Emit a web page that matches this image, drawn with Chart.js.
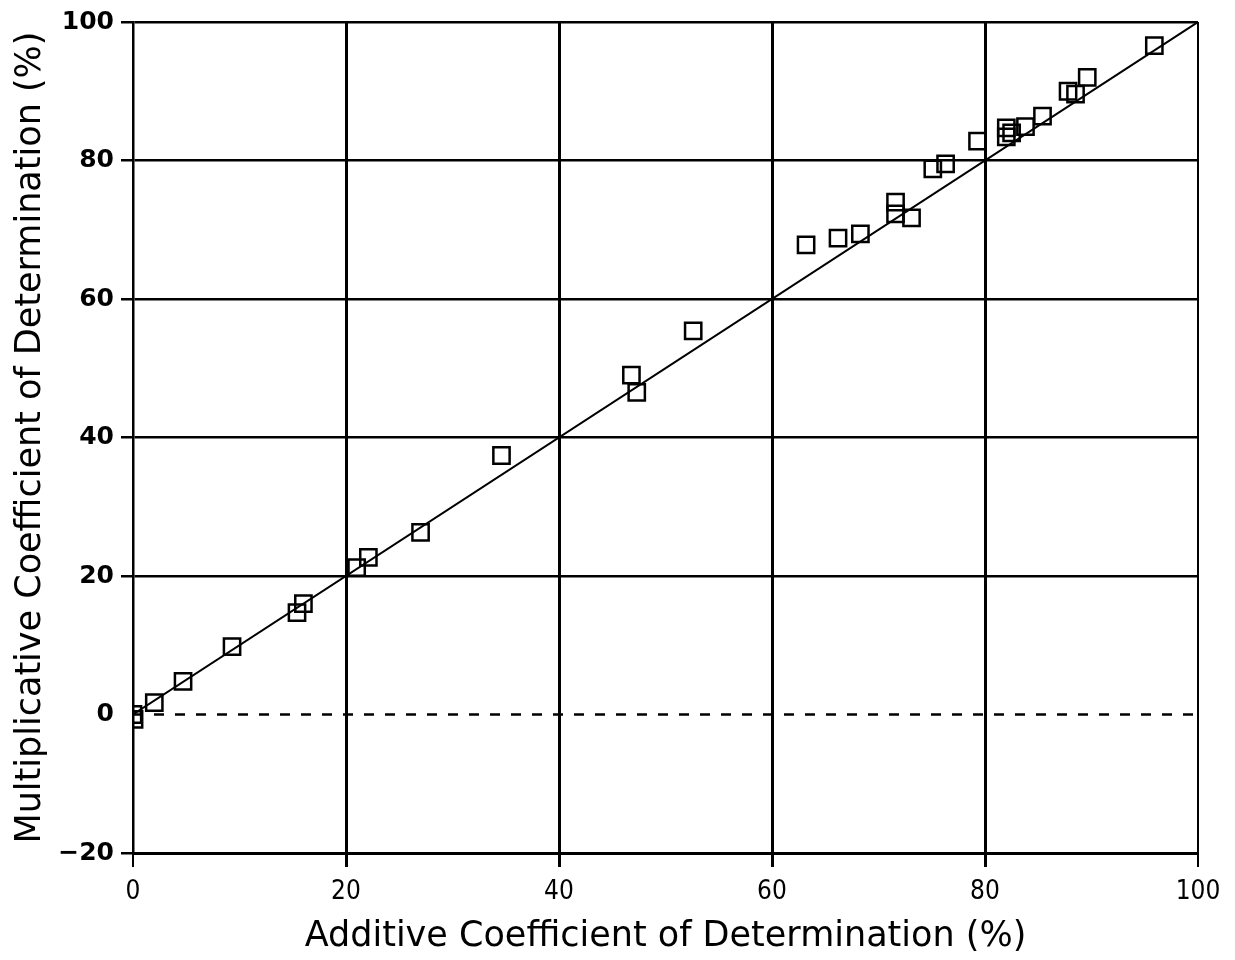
<!DOCTYPE html>
<html>
<head>
<meta charset="utf-8">
<script src="https://cdn.jsdelivr.net/npm/chart.js@4/dist/chart.umd.min.js"></script>
<style>
html,body{margin:0;padding:0;background:#fff;}
#wrap{width:1235px;height:960px;position:relative;}
</style>
</head>
<body>
<div id="wrap"><canvas id="c" width="1235" height="960"></canvas></div>
<script>
// Data
const additive = [0, 0.1, 2.0, 4.7, 9.3, 15.4, 16.0, 21.0, 22.1, 27.0, 34.6, 46.8, 47.3, 52.6, 63.2, 66.2, 68.3, 71.6, 71.6, 73.1, 75.1, 76.3, 79.3, 82.0, 82.0, 82.5, 83.8, 85.4, 87.8, 88.5, 89.6, 95.9];
const multiplicative = [0, -0.7, 1.7, 4.8, 9.8, 14.7, 16.0, 21.2, 22.7, 26.3, 37.4, 49.0, 46.5, 55.4, 67.8, 68.8, 69.4, 74.0, 72.3, 71.7, 78.8, 79.5, 82.8, 84.7, 83.4, 84.0, 84.9, 86.4, 90.0, 89.6, 92.0, 96.6];
const lineX = [0, 100];
const lineY = [0, 100];
const zeroX = [0, 100];
const zeroY = [0, 0];
const xTicks = [0, 20, 40, 60, 80, 100];
const yTicks = [-20, 0, 20, 40, 60, 80, 100];

const pts = additive.map((v, i) => ({x: v, y: multiplicative[i]}));
const fit = lineX.map((v, i) => ({x: v, y: lineY[i]}));
const zero = zeroX.map((v, i) => ({x: v, y: zeroY[i]}));

new Chart(document.getElementById('c'), {
  type: 'scatter',
  data: {
    datasets: [
      {data: fit, showLine: true, borderColor: '#000', borderWidth: 2, pointRadius: 0, order: 2},
      {data: zero, showLine: true, borderColor: '#000', borderWidth: 2.5, borderDash: [10, 11], pointRadius: 0, order: 3},
      {data: pts, pointStyle: 'rect', pointRadius: 11.5, pointBorderWidth: 2.5, pointBorderColor: '#000', pointBackgroundColor: 'rgba(255,255,255,0)', showLine: false, order: 1}
    ]
  },
  options: {
    responsive: false,
    animation: false,
    events: [],
    layout: {padding: {top: 20, right: 37, bottom: 0, left: 0}},
    plugins: {legend: {display: false}, tooltip: {enabled: false}},
    scales: {
      x: {
        type: 'linear', min: 0, max: 100,
        afterBuildTicks: s => { s.ticks = xTicks.map(v => ({value: v})); },
        afterFit: s => { s.height = 107; },
        grid: {
          color: '#000',
          lineWidth: ctx => (ctx.tick && (ctx.tick.value === 0 || ctx.tick.value === 100)) ? 2 : 3,
          tickLength: 14, drawOnChartArea: true
        },
        border: {display: true, color: '#000', width: 3},
        ticks: {color: '#000', padding: 10, font: {family: "'DejaVu Sans Condensed', 'DejaVu Sans'", size: 26}, maxRotation: 0},
        title: {display: true, text: 'Additive Coefficient of Determination (%)', color: '#000',
                font: {family: 'DejaVu Sans', size: 35}, padding: {top: 6, bottom: 2}}
      },
      y: {
        type: 'linear', min: -20, max: 100,
        afterBuildTicks: s => { s.ticks = yTicks.map(v => ({value: v})); },
        afterFit: s => { s.width = 133; },
        grid: {
          color: ctx => (ctx.tick && ctx.tick.value === 0) ? 'rgba(0,0,0,0)' : '#000',
          lineWidth: 2.5, tickLength: 12
        },
        border: {display: true, color: '#000', width: 2.5},
        ticks: {color: '#000', padding: 7, font: {family: 'DejaVu Sans', size: 25, weight: 'bold'},
                callback: v => String(v).replace('-', '\u2212')},
        title: {display: true, text: 'Multiplicative Coefficient of Determination (%)', color: '#000',
                font: {family: 'DejaVu Sans', size: 35}, padding: {top: 10, bottom: 0}}
      }
    }
  }
});
</script>
</body>
</html>
